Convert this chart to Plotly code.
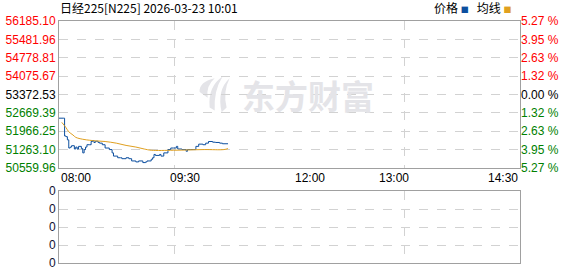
import plotly.graph_objects as go

# ---------------- data ----------------
title_text = "日经225[N225] 2026-03-23 10:01"
y_min = 50559.96
y_max = 56185.10
prev_close = 53372.53
left_ticks = ["56185.10", "55481.96", "54778.81", "54075.67", "53372.53",
              "52669.39", "51966.25", "51263.10", "50559.96"]
right_ticks = ["5.27 %", "3.95 %", "2.63 %", "1.32 %", "0.00 %",
               "1.32 %", "2.63 %", "3.95 %", "5.27 %"]
x_labels = ["08:00", "09:30", "12:00", "13:00", "14:30"]
x_label_min = [0, 90, 180, 240, 330]
session_minutes = 330

# minutes after 08:00
price_min = [0, 3, 4, 5, 6, 7, 8, 9, 11, 12, 13, 14, 16, 17, 18, 19, 20, 22, 23, 24,
             25, 26, 28, 29, 31, 33, 36, 38, 39, 42, 44, 45, 48, 50, 52, 55, 57, 60,
             62, 63, 66, 67, 68, 69, 72, 73, 75, 78, 80, 82, 84, 85, 88, 91, 92, 94,
             96, 98, 100, 103, 105, 107, 110, 112, 115, 117, 121]
price = [52460, 52460, 51778, 51752, 51629, 51316, 51353, 51405, 51279, 51353,
         51279, 51380, 51294, 51130, 51257, 51353, 51443, 51443, 51566, 51603,
         51529, 51577, 51529, 51503, 51443, 51316, 51257, 51130, 51007, 50944,
         50944, 50907, 50944, 50907, 50821, 50784, 50821, 50758, 50784, 50821,
         50884, 50944, 51070, 51033, 51070, 51007, 51130, 51257, 51316, 51316,
         51380, 51279, 51257, 51193, 51257, 51257, 51257, 51380, 51465, 51443,
         51503, 51566, 51540, 51529, 51503, 51480, 51480]
avg_min = [2, 5, 7, 10, 12, 17, 22, 26, 33, 41, 48, 55, 61, 66, 82, 104, 118, 121]
avg = [52300, 52099, 51938, 51816, 51726, 51652, 51614, 51592, 51566, 51503,
       51417, 51354, 51279, 51231, 51231, 51257, 51257, 51294]
vol_ticks = ["0", "0", "0", "0", "0"]

# ---------------- style ----------------
RED = "#ff0000"
GREEN = "#008000"
BLACK = "#000000"
BLUE = "#0d4f9f"
ORANGE = "#e0a020"
GRID = "#d2d2d2"
FRAME = "#a0a0a0"
FONT = "Liberation Sans, Arial, sans-serif"
CJK = "Noto Sans CJK SC, sans-serif"

step = (y_max - y_min) / 8
tickvals = [y_max - i * step for i in range(9)]

def col(i):
    return RED if i < 4 else (BLACK if i == 4 else GREEN)

left_text = [f'<span style="color:{col(i)}">{t}</span>' for i, t in enumerate(left_ticks)]
right_text = [f'<span style="color:{col(i)}">{t}</span>' for i, t in enumerate(right_ticks)]

fig = go.Figure()
fig.add_trace(go.Scatter(x=price_min, y=price, mode="lines", line=dict(color=BLUE, width=1, shape="hv"),
                         xaxis="x", yaxis="y", showlegend=False, hoverinfo="skip"))
fig.add_trace(go.Scatter(x=avg_min, y=avg, mode="lines", line=dict(color=ORANGE, width=1, shape="spline"),
                         xaxis="x", yaxis="y", showlegend=False, hoverinfo="skip"))
fig.add_trace(go.Scatter(x=[None], y=[None], mode="lines", xaxis="x", yaxis="y2",
                         showlegend=False, hoverinfo="skip"))
fig.add_trace(go.Scatter(x=[None], y=[None], mode="lines", xaxis="x2", yaxis="y3",
                         showlegend=False, hoverinfo="skip"))

grid_x = [session_minutes * 0.25, session_minutes * 0.75]
xcommon = dict(range=[0, session_minutes], tickvals=grid_x, showticklabels=False, ticks="",
               showgrid=True, gridcolor=GRID, griddash="dash", gridwidth=1, zeroline=False,
               showline=True, mirror=True, linecolor=FRAME, linewidth=1)

fig.update_layout(
    width=578, height=276,
    margin=dict(l=58, r=58, t=21, b=6),
    paper_bgcolor="white", plot_bgcolor="white",
    font=dict(family=FONT, size=12, color=BLACK),
    xaxis=dict(domain=[0, 1], anchor="y", **xcommon),
    xaxis2=dict(domain=[0, 1], anchor="y3", matches="x", **xcommon),
    yaxis=dict(domain=[(270 - 172) / 249, 1], range=[y_min, y_max], tickvals=tickvals, ticktext=left_text,
               ticks="", showgrid=True, gridcolor=GRID, griddash="dash", zeroline=False,
               showline=True, mirror=True, linecolor=FRAME, linewidth=1,
               tickfont=dict(family=FONT, size=12)),
    yaxis2=dict(overlaying="y", side="right", anchor="x", range=[y_min, y_max], tickvals=tickvals,
                ticktext=right_text, ticks="", showgrid=False, zeroline=False,
                tickfont=dict(family=FONT, size=12)),
    yaxis3=dict(domain=[0, 74 / 249], anchor="x2", range=[0, 4], tickvals=[4, 3, 2, 1, 0], ticktext=vol_ticks,
                ticks="", showgrid=True, gridcolor=GRID, griddash="dash", zeroline=False,
                showline=True, mirror=True, linecolor=FRAME, linewidth=1,
                tickfont=dict(family=FONT, size=12, color="#111133")),
)

ann = []
main_bottom = (270 - 172) / 249
for lab, m in zip(x_labels, x_label_min):
    anchor = "left" if m == 0 else ("right" if m == session_minutes else "center")
    ann.append(dict(x=m, y=main_bottom, xref="x", yref="paper", text=lab, showarrow=False,
                    xanchor=anchor, yanchor="top", yshift=-1, font=dict(family=FONT, size=12, color=BLACK)))
# header
ann.append(dict(x=0, y=1, xref="paper", yref="paper", text=title_text, showarrow=False,
                xanchor="left", yanchor="bottom", yshift=3, xshift=-1, font=dict(family=CJK, size=12, color=BLACK)))
# legend
ann.append(dict(x=(432 - 58) / 462, y=1, xref="paper", yref="paper",
                text=f'价格 <span style="color:{BLUE};font-size:8px">■</span>   均线 <span style="color:{ORANGE};font-size:8px">■</span>',
                showarrow=False, xanchor="left", yanchor="bottom", yshift=3, font=dict(family=CJK, size=12, color=BLACK)))
# watermark
ann.append(dict(x=(308 - 58) / 462, y=(270 - 97) / 249, xref="paper", yref="paper", text="<b>东方财富</b>",
                showarrow=False, xanchor="center", yanchor="middle",
                font=dict(family=CJK, size=33, color="#e4e4e8")))
fig.update_layout(annotations=ann)

# watermark logo (decorative)
def P(x, y):
    return f"{(x - 58) / 462:.4f},{(270 - y) / 249:.4f}"

logo_paths = [
    f"M {P(214,80)} Q {P(198,84)} {P(199,94)} L {P(207,100)} Q {P(205,88)} {P(214,80)} Z",
    f"M {P(222,78)} Q {P(207,88)} {P(209,110)} L {P(214,113)} Q {P(213,92)} {P(222,78)} Z",
    f"M {P(229,80)} Q {P(216,92)} {P(221,115)} L {P(226,110)} Q {P(222,94)} {P(229,80)} Z",
]
for p in logo_paths:
    fig.add_shape(type="path", path=p, xref="paper", yref="paper", fillcolor="#e4e4e8",
                  line=dict(width=0), layer="below")

fig.write_html("out.html")
